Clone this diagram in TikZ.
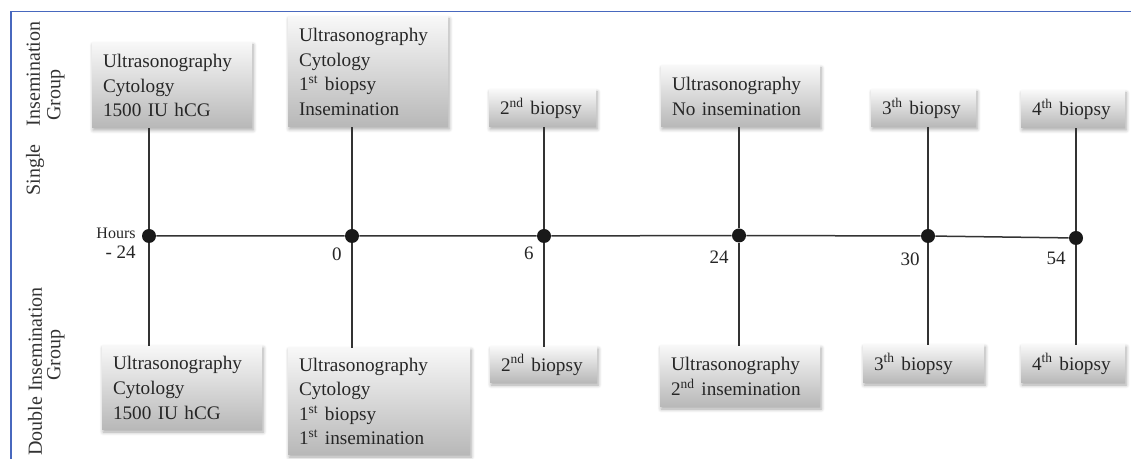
\documentclass[tikz,border=0pt]{standalone}
\usepackage{fontspec}
\setmainfont{Liberation Serif}
\usetikzlibrary{shadows.blur}
\definecolor{framebl}{RGB}{72,104,190}

\begin{document}
\begin{tikzpicture}[x=0.5pt, y=-0.5pt,
        evbox/.style={align=left, inner xsep=5.5pt, inner ysep=0pt, top color=black!3, bottom color=black!28,
            blur shadow={shadow xshift=0.6pt, shadow yshift=-1pt, shadow blur steps=6, shadow opacity=35},
            text=black!85, font=\fontsize{9.6}{12.3}\selectfont},
        dot/.style={circle, fill=black!90, inner sep=0pt, minimum size=7pt},
        stem/.style={draw=black!80, line width=0.65pt},
        hourlbl/.style={anchor=east, inner sep=0pt, text=black!85, font=\fontsize{9.5}{11}\selectfont},
        grouplbl/.style={rotate=90, inner sep=0pt, text=black!80, font=\fontsize{10}{10.5}\selectfont}]
        \useasboundingbox (0,0) rectangle (1131,459);
        \draw[framebl, line width=0.6pt] (1131,11.5) -- (11,11.5) -- (11,459);

        \node[grouplbl] (g1) at (35,108.5) {Single\hspace{9pt}Insemination};
        \node[grouplbl] (g1b) at (56,95) {Group};
        \node[grouplbl] (g2) at (35,371.5) {Double Insemination};
        \node[grouplbl] (g2b) at (56,355) {Group};

        % single insemination
        \node[evbox, minimum width=80pt, minimum height=42.5pt, text width=69pt] (s1) at (172,85.5) {Ultrasonography\\Cytology\\1500 IU hCG};
        \node[evbox, minimum width=80pt, minimum height=55pt, text width=69pt] (s2) at (368,72) {Ultrasonography\\Cytology\\1\textsuperscript{st} biopsy\\Insemination};
        \node[evbox, minimum width=53.5pt, minimum height=18.5pt, text width=42.5pt] (s3) at (542.5,108.5) {2\textsuperscript{nd} biopsy};
        \node[evbox, minimum width=79.5pt, minimum height=30.5pt, text width=68.5pt] (s4) at (740.5,96.5) {Ultrasonography\\No insemination};
        \node[evbox, minimum width=52.5pt, minimum height=18.5pt, text width=41.5pt] (s5) at (923.5,108.5) {3\textsuperscript{th} biopsy};
        \node[evbox, minimum width=52pt, minimum height=18.5pt, text width=41pt] (s6) at (1073,109.5) {4\textsuperscript{th} biopsy};

        % double insemination
        \node[evbox, minimum width=80pt, minimum height=42pt, text width=69pt] (b1) at (182,388) {Ultrasonography\\Cytology\\1500 IU hCG};
        \node[evbox, minimum width=91pt, minimum height=53.5pt, text width=80pt] (b2) at (379,401.5) {Ultrasonography\\Cytology\\1\textsuperscript{st} biopsy\\1\textsuperscript{st} insemination};
        \node[evbox, minimum width=53.5pt, minimum height=18pt, text width=42.5pt] (b3) at (543.5,365) {2\textsuperscript{nd} biopsy};
        \node[evbox, minimum width=80pt, minimum height=30.5pt, text width=69pt] (b4) at (740,376.5) {Ultrasonography\\2\textsuperscript{nd} insemination};
        \node[evbox, minimum width=60.5pt, minimum height=19pt, text width=49.5pt] (b5) at (923.5,364) {3\textsuperscript{th} biopsy};
        \node[evbox, minimum width=52pt, minimum height=19pt, text width=41pt] (b6) at (1073,364) {4\textsuperscript{th} biopsy};

        \node[dot] (d1) at (149,236) {};
        \node[dot] (d2) at (352,236) {};
        \node[dot] (d3) at (544,236) {};
        \node[dot] (d4) at (739,235.5) {};
        \node[dot] (d5) at (928,236) {};
        \node[dot] (d6) at (1076,238) {};

        \draw[stem, line width=0.75pt] (d1) -- (d2) -- (d3) -- (d4) -- (d5) -- (d6);
        \foreach \i in {1,...,6} {
            \draw[stem] (d\i) -- (d\i |- s\i.south);
            \draw[stem] (d\i) -- (d\i |- b\i.north);
        }

        \node[hourlbl, font=\fontsize{8}{9}\selectfont] (hrs) at (136,233) {Hours};
        \node[hourlbl] (h1) at (136,252) {- 24};
        \node[hourlbl] (h2) at (342,254) {0};
        \node[hourlbl] (h3) at (534,253) {6};
        \node[hourlbl] (h4) at (729,257) {24};
        \node[hourlbl] (h5) at (920,259) {30};
        \node[hourlbl] (h6) at (1066,258) {54};
    \end{tikzpicture}
\end{document}
